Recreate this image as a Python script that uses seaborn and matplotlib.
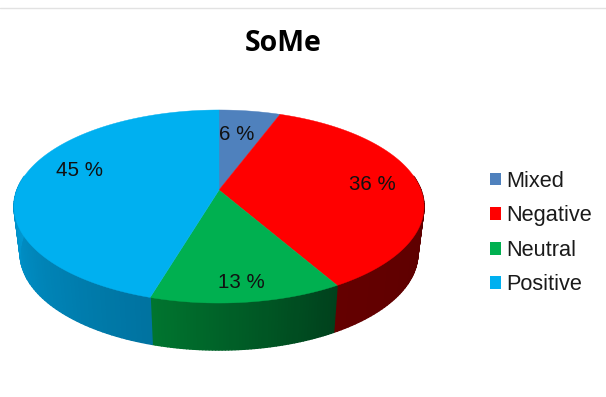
import numpy as np
import matplotlib
matplotlib.use("Agg")
import matplotlib.pyplot as plt
from matplotlib.patches import Polygon, Patch
from matplotlib.collections import PolyCollection
from matplotlib.lines import Line2D
import seaborn as sns

title = "SoMe"
categories = ["Mixed", "Negative", "Neutral", "Positive"]
values = [5.7, 36.0, 12.9, 45.4]  # shown rounded in the labels
top_colors = ["#4F81BD", "#FF0000", "#00B050", "#00B0F0"]
side_left = ["#2F5A8A", "#640000", "#00752F", "#009BD6"]
side_right = ["#2F5A8A", "#5A0000", "#00401C", "#00729F"]
label_offsets = [(18, -56), (153, -5.5), (22, 93), (-140, -19)]

sns.set_theme(style="white")
plt.rcParams["font.family"] = ["Liberation Sans", "DejaVu Sans"]

W, H = 606, 397
fig = plt.figure(figsize=(W / 100, H / 100), dpi=100, facecolor="white")
ax = fig.add_axes([0, 0, 1, 1])
ax.set_xlim(0, W)
ax.set_ylim(H, 0)
ax.axis("off")

# perspective projection of the unit disc
CX, CY = 219, 190
A, B, P = 202, 93.7, 0.171
DEPTH = 47
SHRINK = 0.97


def project(theta):
    u, v = np.sin(theta), -np.cos(theta)
    w = 1 - P * v
    return A * u / w, B * v / w


edges = np.cumsum([0] + values) / sum(values) * 2 * np.pi

# side wall: only the front half of the rim is visible
polys, cols = [], []
for i in range(len(values)):
    a0, a1 = edges[i], edges[i + 1]
    lo, hi = max(a0, np.pi / 2 - 0.15), min(a1, 3 * np.pi / 2 + 0.15)
    if hi <= lo:
        continue
    grid = np.linspace(lo, hi, 60)
    c_l = np.array(matplotlib.colors.to_rgb(side_left[i]))
    c_r = np.array(matplotlib.colors.to_rgb(side_right[i]))
    for t0, t1 in zip(grid[:-1], grid[1:]):
        x0, y0 = project(t0)
        x1, y1 = project(t1)
        polys.append([
            (CX + x0, CY + y0), (CX + x1, CY + y1),
            (CX + SHRINK * x1, CY + y1 + DEPTH), (CX + SHRINK * x0, CY + y0 + DEPTH),
        ])
        frac = (t1 - lo) / (hi - lo)  # 0 at the right end of the slice, 1 at its left
        cols.append(c_r + (c_l - c_r) * frac)
ax.add_collection(PolyCollection(polys, facecolors=cols, edgecolors=cols, linewidths=1.0, zorder=1))

# top faces
for i in range(len(values)):
    grid = np.linspace(edges[i], edges[i + 1], 160)
    xs, ys = project(grid)
    pts = np.column_stack([np.r_[CX, CX + xs], np.r_[CY, CY + ys]])
    ax.add_patch(Polygon(pts, closed=True, facecolor=top_colors[i], edgecolor=top_colors[i], lw=0.3, zorder=2))

# data labels
for v, (dx, dy) in zip(values, label_offsets):
    ax.text(CX + dx, CY + dy, f"{round(v)} %", fontsize=14.8, color="#111111", ha="center", va="center", zorder=3)

ax.text(283, 43.5, title, fontsize=20.5, fontweight="bold", family=["Open Sans", "DejaVu Sans"],
        color="black", ha="center", va="center")
ax.add_line(Line2D([0, W], [7.5, 7.5], color="#E2E2E2", lw=1))

handles = [Patch(facecolor=c, edgecolor="none") for c in top_colors]
ax.legend(handles, categories, loc="center left", bbox_to_anchor=(489.5 / W, 1 - 233 / H),
          frameon=False, fontsize=15.7, labelspacing=0.62, handlelength=0.54, handleheight=0.54,
          handletextpad=0.24, borderpad=0, borderaxespad=0, labelcolor="#1a1a1a")

fig.savefig("out.png", dpi=100, facecolor="white")
